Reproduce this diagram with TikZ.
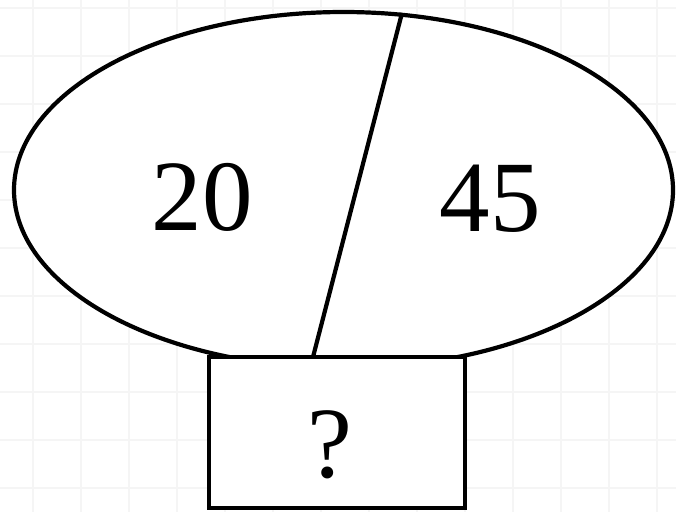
\documentclass[tikz,border=0pt]{standalone}
\usepackage{fontspec}
\setmainfont{Liberation Serif}
\usetikzlibrary{shapes.geometric}
\begin{document}
\begin{tikzpicture}[x=1pt,y=-1pt,
  gridline/.style={draw=black!4,line width=1.6pt},
  outline/.style={draw=black,line width=4.2pt},
  bignum/.style={font=\fontsize{101}{110}\selectfont,inner sep=0pt,anchor=base}]
\useasboundingbox (0,0) rectangle (676,512);
\fill[white] (0,0) rectangle (676,512);
\foreach \gx in {33,81,...,676} \draw[gridline] (\gx,0) -- (\gx,512);
\foreach \gy in {8,56,...,512} \draw[gridline] (0,\gy) -- (676,\gy);
\node[ellipse,outline,fill=white,minimum width=659pt,minimum height=356pt,inner sep=0pt] (ell) at (343.5,190) {};
\coordinate (top) at (402,13);
\coordinate (bot) at (313,357);
\draw[outline] (top) -- (bot);
\node[outline,fill=white,minimum width=256pt,minimum height=151pt,inner sep=0pt] (box) at (337,432.5) {};
\node[bignum] (a) at (202,230) {20};
\node[bignum] (b) at (490,231) {45};
\node[bignum] (q) at (330,477) {?};
\end{tikzpicture}
\end{document}
